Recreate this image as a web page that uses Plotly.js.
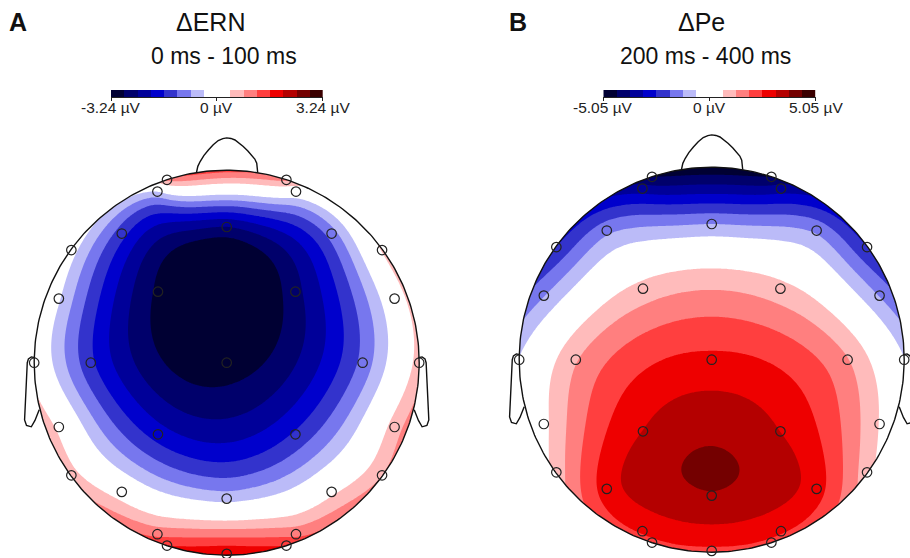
<!DOCTYPE html>
<html><head><meta charset="utf-8">
<script src="https://cdn.plot.ly/plotly-3.0.1.min.js"></script>
<style>html,body{margin:0;padding:0;background:#fff;}#chart{width:910px;height:558px;}</style>
</head><body><div id="chart"></div>
<script>
// ---------- data ----------
const electrodeNames = ['Fp1','Fp2','AF3','AF4','Fz','F3','F4','F7','F8','FC5','FC6','FC1','FC2','C3','Cz','C4','T7','T8','CP5','CP6','CP1','CP2','P7','P8','P3','P4','Pz','PO3','PO4','O1','O2','Oz'];
const electrodeX = [-0.31,0.31,-0.36,0.36,0,-0.545,0.545,-0.807,0.807,-0.872,0.872,-0.357,0.357,-0.706,0,0.706,-1,1,-0.872,0.872,-0.357,0.357,-0.807,0.807,-0.545,0.545,0,-0.36,0.36,-0.31,0.31,0];
const electrodeY = [0.95,0.95,0.889,0.889,0.705,0.671,0.671,0.585,0.585,0.333,0.333,0.369,0.369,0,0,0,0,0,-0.334,-0.334,-0.372,-0.372,-0.585,-0.585,-0.671,-0.671,-0.706,-0.891,-0.891,-0.95,-0.95,-0.993];
// µV at each electrode
const ernValues = [0.9,0.9,-0.4,0.0,-2.44,-1.45,-1.01,-0.2,0.45,-0.35,0.05,-2.92,-2.57,-1.52,-3.05,-1.08,0.15,0.6,0.3,0.6,-1.8,-1.55,0.6,0.8,0.15,0.3,-0.55,1.1,1.1,1.6,1.6,2.0];
const peValues  = [-4.4,-4.4,-3.5,-3.5,-1.26,-1.45,-1.4,-2.5,-2.5,-1.3,-1.3,0.85,0.85,1.2,2.67,1.3,-0.6,-0.6,0.45,0.6,3.17,3.15,0.9,0.9,2.83,2.8,3.74,2.6,2.6,2.4,2.4,2.4];
const ernLimit = 3.24;
const peLimit = 5.05;
const bandColors = ['#000033','#00006b','#000099','#0000cc','#3333cc','#7777ee','#bbbbf8','#ffffff','#ffffff','#ffbbbb','#ff7f7f','#ff3f3f','#ee0000','#b40000','#740000','#3a0000'];
const panelLabels = ['A','B'];
const panelTitles = ['ΔERN','ΔPe'];
const panelWindows = ['0 ms - 100 ms','200 ms - 400 ms'];
const tickLabelsA = ['-3.24 µV','0 µV','3.24 µV'];
const tickLabelsB = ['-5.05 µV','0 µV','5.05 µV'];

// ---------- head outline (unit head radius) ----------
const noseX = [-0.157,-0.150,-0.138,-0.118,-0.095,-0.070,-0.044,-0.020,0,0.022,0.043,0.066,0.086,0.110,0.130,0.146,0.156,0.160,0.161];
const noseY = [0.988,1.020,1.045,1.077,1.105,1.132,1.154,1.164,1.168,1.165,1.157,1.140,1.123,1.100,1.079,1.058,1.036,1.012,0.988];
const earX = [-0.995,-1.015,-1.030,-1.036,-1.041,-1.047,-1.050,-1.040,-1.015,-0.996,-0.982,-0.974];
const earY = [0.026,0.030,0.020,0.0,-0.107,-0.228,-0.297,-0.326,-0.333,-0.300,-0.265,-0.245];

// ---------- biharmonic spline interpolation (griddata 'v4', head radius 0.5) ----------
const S = 0.5;
function green(d){ return d > 1e-12 ? d*d*(Math.log(d)-1) : 0; }
function solve(A){ const n=A.length;
  for(let c=0;c<n;c++){ let p=c; for(let r=c+1;r<n;r++) if(Math.abs(A[r][c])>Math.abs(A[p][c])) p=r;
    const t=A[c]; A[c]=A[p]; A[p]=t;
    for(let r=c+1;r<n;r++){ const f=A[r][c]/A[c][c]; for(let k=c;k<=n;k++) A[r][k]-=f*A[c][k]; } }
  const w=new Array(n).fill(0);
  for(let r=n-1;r>=0;r--){ let s=A[r][n]; for(let k=r+1;k<n;k++) s-=A[r][k]*w[k]; w[r]=s/A[r][r]; }
  return w; }
const gridAxis = []; for(let i=0;i<=212;i++) gridAxis.push(+(-1.06+i*0.01).toFixed(3));
function field(vs){
  const n=vs.length, ex=electrodeX.map(v=>v*S), ey=electrodeY.map(v=>v*S), A=[];
  for(let i=0;i<n;i++){ const row=[]; for(let j=0;j<n;j++) row.push(green(Math.hypot(ex[i]-ex[j], ey[i]-ey[j]))); row.push(vs[i]); A.push(row); }
  const w=solve(A);
  return gridAxis.map(y => gridAxis.map(x => { let s=0; for(let j=0;j<n;j++) s+=w[j]*green(Math.hypot(x*S-ex[j], y*S-ey[j])); return s; }));
}

// stepwise colour scale, one colour per band
const nb = bandColors.length - 1;
const stepScale = [];
bandColors.forEach((c,k)=>{ stepScale.push([Math.max(0,(k-0.5)/nb), c]); stepScale.push([Math.min(1,(k+0.5)/nb), c]); });

function contourTrace(vs, limit, xa, ya){
  const step = 2*limit/bandColors.length;
  return {type:'contour', x:gridAxis, y:gridAxis, z:field(vs), xaxis:xa, yaxis:ya, autocontour:false,
    contours:{coloring:'fill', start:-limit+step, end:limit-step+1e-9, size:step, showlines:false},
    line:{width:0, smoothing:0}, colorscale:stepScale, showscale:false, hoverinfo:'skip'};
}
function maskTrace(xa, ya){
  const x=[-1.3,1.3,1.3,-1.3,-1.3,null], y=[-1.3,-1.3,1.3,1.3,-1.3,null];
  for(let a=0;a<=360;a++){ const t=-a*Math.PI/180; x.push(Math.cos(t)); y.push(Math.sin(t)); }
  return {type:'scatter', mode:'none', x, y, fill:'toself', fillcolor:'#ffffff', xaxis:xa, yaxis:ya, hoverinfo:'skip'};
}
function outlineTrace(xa, ya){
  const x=[], y=[];
  for(let a=0;a<=360;a++){ const t=a*Math.PI/180; x.push(Math.cos(t)); y.push(Math.sin(t)); }
  x.push(null); y.push(null);
  noseX.forEach((v,i)=>{x.push(v); y.push(noseY[i]);}); x.push(null); y.push(null);
  earX.forEach((v,i)=>{x.push(v); y.push(earY[i]);}); x.push(null); y.push(null);
  earX.forEach((v,i)=>{x.push(-v); y.push(earY[i]);});
  return {type:'scatter', mode:'lines', x, y, line:{color:'#111', width:1.4}, xaxis:xa, yaxis:ya, hoverinfo:'skip'};
}
function electrodeTrace(vs, xa, ya){
  return {type:'scatter', mode:'markers', x:electrodeX, y:electrodeY, text:electrodeNames, customdata:vs,
    marker:{symbol:'circle-open', size:9.5, color:'#222', line:{width:1.2}}, xaxis:xa, yaxis:ya, cliponaxis:false,
    hovertemplate:'%{text}: %{customdata} µV<extra></extra>'};
}
function barTrace(limit, xa, ya){
  const step = 2*limit/bandColors.length, edges=[];
  for(let k=0;k<=bandColors.length;k++) edges.push(-limit+k*step);
  return {type:'heatmap', x:edges, y:[0,1], z:[bandColors.map((c,k)=>k)], zmin:0, zmax:nb, colorscale:stepScale,
    showscale:false, xaxis:xa, yaxis:ya, hoverinfo:'skip'};
}

const traces = [
  contourTrace(ernValues, ernLimit, 'x', 'y'), maskTrace('x','y'), outlineTrace('x','y'), electrodeTrace(ernValues,'x','y'),
  contourTrace(peValues, peLimit, 'x2', 'y2'), maskTrace('x2','y2'), outlineTrace('x2','y2'), electrodeTrace(peValues,'x2','y2'),
  barTrace(ernLimit, 'x3', 'y3'), barTrace(peLimit, 'x4', 'y4')
];

const W=910, H=558, R=192.5;
const hidden = {visible:false, fixedrange:true};
function headAxes(cx, cy, x0, x1){
  return [{...hidden, domain:[x0/W, x1/W], range:[-(cx-x0)/R, (x1-cx)/R]},
          {...hidden, domain:[0,1], range:[-(H-cy)/R, cy/R]}];
}
const [xa1, ya1] = headAxes(226.7, 362.7, 0, 455);
const [xa2, ya2] = headAxes(711.7, 359.7, 455, 910);
function barAxes(x0, x1, limit, yanchor){
  return {domain:[x0/W, x1/W], anchor:yanchor, range:[-limit, limit], tickvals:[-limit,0,limit], showticklabels:false,
    ticks:'outside', ticklen:2.5, tickwidth:1, tickcolor:'#222', showline:true, linecolor:'#222', linewidth:1,
    showgrid:false, zeroline:false, fixedrange:true};
}
const font = 'Liberation Sans, Arial, Helvetica, sans-serif';
function ann(text, px, py, size){ return {text, x:px/W, y:1-py/H, xref:'paper', yref:'paper', xanchor:'center', yanchor:'middle', showarrow:false, font:{size, color:'#111', family:font}}; }
function tickAnns(labels, limit, xref){
  return [-limit,0,limit].map((v,i)=>({text:labels[i], x:v, xref, y:1-107.5/H, yref:'paper', xanchor:'center', yanchor:'middle', showarrow:false, font:{size:15.5, color:'#222', family:font}}));
}

const layout = {
  width:W, height:H, margin:{l:0,r:0,t:0,b:0}, paper_bgcolor:'#fff', plot_bgcolor:'#fff', showlegend:false,
  font:{family:font, color:'#222'},
  xaxis:xa1, yaxis:ya1, xaxis2:{...xa2, anchor:'y2'}, yaxis2:{...ya2, anchor:'x2'},
  xaxis3:barAxes(111, 322.7, ernLimit, 'y3'),
  yaxis3:{...hidden, domain:[(H-97.3)/H, (H-90)/H], range:[0,1], anchor:'x3'},
  xaxis4:barAxes(603.3, 815.7, peLimit, 'y4'),
  yaxis4:{...hidden, domain:[(H-97.3)/H, (H-90)/H], range:[0,1], anchor:'x4'},
  annotations:[
    ann('<b>'+panelLabels[0]+'</b>', 17.5, 21.5, 25), ann(panelTitles[0], 210.8, 21.5, 25), ann(panelWindows[0], 224, 56, 23),
    ann('<b>'+panelLabels[1]+'</b>', 517.5, 21.5, 25), ann(panelTitles[1], 701.7, 21.5, 25), ann(panelWindows[1], 705.8, 56, 23),
    ...tickAnns(tickLabelsA, ernLimit, 'x3'), ...tickAnns(tickLabelsB, peLimit, 'x4')
  ]
};
Plotly.newPlot('chart', traces, layout, {staticPlot:true, displayModeBar:false});
</script></body></html>
